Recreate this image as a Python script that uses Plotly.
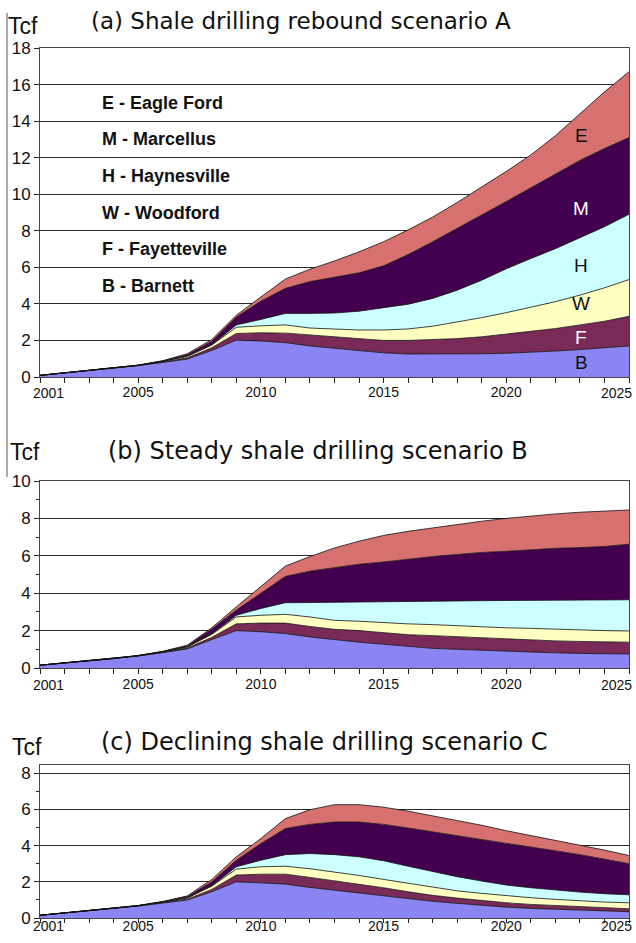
import plotly.graph_objects as go

# ---------------- data ----------------
years = list(range(2001, 2026))
year_labels = ["", "", "", "", "2005", "", "", "", "", "2010", "", "", "", "", "2015",
               "", "", "", "", "2020", "", "", "", "", ""]
first_year_label = "2001"
last_year_label = "2025"

shale_names = ["Barnett", "Fayetteville", "Woodford", "Haynesville", "Marcellus", "Eagle Ford"]
shale_letters = ["B", "F", "W", "H", "M", "E"]
legend_lines = ["E - Eagle Ford", "M - Marcellus", "H - Haynesville", "W - Woodford",
                "F - Fayetteville", "B - Barnett"]

# cumulative (stacked) tops, Tcf
# Scenario A - shale drilling rebound
a_barnett = [0.09, 0.22, 0.36, 0.49, 0.62, 0.80, 0.98, 1.45, 2.02, 1.97, 1.88, 1.70, 1.58, 1.45, 1.32, 1.26, 1.25, 1.25, 1.27, 1.30, 1.35, 1.42, 1.50, 1.60, 1.70]
a_fayetteville = [0.09, 0.22, 0.36, 0.49, 0.63, 0.82, 1.05, 1.60, 2.38, 2.42, 2.40, 2.30, 2.20, 2.08, 2.00, 2.00, 2.05, 2.10, 2.20, 2.35, 2.50, 2.65, 2.85, 3.05, 3.32]
a_woodford = [0.09, 0.22, 0.36, 0.49, 0.64, 0.85, 1.12, 1.75, 2.72, 2.80, 2.85, 2.68, 2.62, 2.57, 2.57, 2.63, 2.78, 3.00, 3.25, 3.52, 3.82, 4.12, 4.48, 4.88, 5.33]
a_haynesville = [0.09, 0.22, 0.36, 0.49, 0.64, 0.86, 1.15, 1.76, 2.85, 3.15, 3.48, 3.48, 3.50, 3.60, 3.78, 3.98, 4.30, 4.75, 5.30, 5.92, 6.48, 7.02, 7.62, 8.22, 8.90]
a_marcellus = [0.09, 0.22, 0.36, 0.49, 0.65, 0.88, 1.22, 1.95, 3.28, 4.15, 4.85, 5.22, 5.45, 5.70, 6.08, 6.70, 7.40, 8.12, 8.85, 9.60, 10.35, 11.10, 11.85, 12.50, 13.10]
a_eagleford = [0.09, 0.22, 0.36, 0.49, 0.65, 0.89, 1.27, 2.05, 3.38, 4.38, 5.36, 5.90, 6.35, 6.85, 7.40, 8.05, 8.75, 9.55, 10.40, 11.25, 12.15, 13.20, 14.40, 15.60, 16.70]

# Scenario B - steady shale drilling
b_barnett = [0.15, 0.27, 0.40, 0.50, 0.64, 0.82, 1.02, 1.52, 2.00, 1.94, 1.84, 1.66, 1.50, 1.38, 1.27, 1.15, 1.05, 1.00, 0.95, 0.88, 0.83, 0.81, 0.78, 0.76, 0.75]
b_fayetteville = [0.15, 0.27, 0.40, 0.50, 0.65, 0.84, 1.07, 1.64, 2.36, 2.40, 2.40, 2.22, 2.07, 2.00, 1.87, 1.78, 1.73, 1.67, 1.60, 1.53, 1.49, 1.45, 1.42, 1.40, 1.38]
b_woodford = [0.15, 0.27, 0.40, 0.50, 0.66, 0.86, 1.12, 1.80, 2.73, 2.82, 2.87, 2.73, 2.55, 2.50, 2.42, 2.36, 2.32, 2.25, 2.18, 2.15, 2.12, 2.07, 2.04, 2.00, 1.98]
b_haynesville = [0.15, 0.27, 0.40, 0.50, 0.66, 0.87, 1.14, 1.82, 2.82, 3.18, 3.49, 3.50, 3.52, 3.53, 3.55, 3.56, 3.58, 3.60, 3.60, 3.61, 3.62, 3.62, 3.63, 3.64, 3.65]
b_marcellus = [0.15, 0.27, 0.40, 0.50, 0.67, 0.88, 1.18, 2.08, 3.10, 4.00, 4.90, 5.18, 5.36, 5.55, 5.67, 5.82, 5.96, 6.07, 6.18, 6.24, 6.33, 6.40, 6.44, 6.50, 6.62]
b_eagleford = [0.15, 0.27, 0.40, 0.50, 0.67, 0.89, 1.22, 2.15, 3.27, 4.36, 5.45, 5.96, 6.42, 6.78, 7.09, 7.31, 7.50, 7.69, 7.85, 8.00, 8.13, 8.24, 8.33, 8.40, 8.45]

# Scenario C - declining shale drilling
c_barnett = [0.15, 0.29, 0.40, 0.53, 0.66, 0.84, 0.99, 1.45, 2.00, 1.94, 1.87, 1.69, 1.54, 1.39, 1.23, 1.06, 0.92, 0.81, 0.70, 0.60, 0.53, 0.48, 0.44, 0.40, 0.35]
c_fayetteville = [0.15, 0.29, 0.40, 0.53, 0.67, 0.86, 1.04, 1.58, 2.37, 2.42, 2.42, 2.24, 2.06, 1.87, 1.67, 1.45, 1.25, 1.10, 0.95, 0.84, 0.75, 0.68, 0.62, 0.57, 0.51]
c_woodford = [0.15, 0.29, 0.40, 0.53, 0.68, 0.88, 1.10, 1.76, 2.70, 2.83, 2.86, 2.72, 2.55, 2.35, 2.13, 1.91, 1.69, 1.50, 1.36, 1.23, 1.12, 1.03, 0.95, 0.88, 0.84]
c_haynesville = [0.15, 0.29, 0.40, 0.53, 0.68, 0.89, 1.12, 1.78, 2.83, 3.19, 3.50, 3.56, 3.50, 3.38, 3.16, 2.86, 2.55, 2.28, 2.04, 1.82, 1.67, 1.54, 1.43, 1.34, 1.28]
c_marcellus = [0.15, 0.29, 0.40, 0.53, 0.69, 0.90, 1.18, 2.00, 3.19, 4.11, 4.94, 5.17, 5.30, 5.30, 5.17, 4.97, 4.75, 4.55, 4.35, 4.12, 3.92, 3.72, 3.50, 3.25, 3.00]
c_eagleford = [0.15, 0.29, 0.40, 0.53, 0.69, 0.91, 1.22, 2.13, 3.38, 4.39, 5.49, 5.98, 6.26, 6.26, 6.12, 5.90, 5.65, 5.40, 5.12, 4.82, 4.55, 4.30, 4.05, 3.75, 3.45]

panel_titles = ["(a) Shale drilling rebound scenario A",
                "(b) Steady shale drilling scenario B",
                "(c) Declining shale drilling scenario C"]

# ---------------- style ----------------
W, H = 636, 943
colors = ["#8B84F3", "#7A2A56", "#FFFFC2", "#CCFFFF", "#42004F", "#D6716F"]
arial = "Liberation Sans, Arial, sans-serif"
narrow = "Liberation Sans Narrow, Liberation Sans, Arial, sans-serif"
title_font = "DejaVu Sans, Liberation Sans, sans-serif"

def px(x):
    return x / W

def py(y):
    return 1 - y / H

scenarios = [
    ("x", "y", [a_barnett, a_fayetteville, a_woodford, a_haynesville, a_marcellus, a_eagleford]),
    ("x2", "y2", [b_barnett, b_fayetteville, b_woodford, b_haynesville, b_marcellus, b_eagleford]),
    ("x3", "y3", [c_barnett, c_fayetteville, c_woodford, c_haynesville, c_marcellus, c_eagleford]),
]

fig = go.Figure()
for xa, ya, series in scenarios:
    for i, vals in enumerate(series):
        fig.add_trace(go.Scatter(
            x=years, y=vals, xaxis=xa, yaxis=ya, mode="lines",
            name=shale_names[i],
            fill="tozeroy" if i == 0 else "tonexty",
            fillcolor=colors[i],
            line=dict(color="#111111", width=0.8),
            showlegend=False, hoverinfo="skip"))

xdom = [px(40), px(629)]
ydoms = [[py(377), py(48)], [py(668), py(481)], [py(918), py(765)]]
yranges = [[0, 18], [0, 10], [0, 8.45]]
standoffs = [-3, -2, -9]
ticklens = [5, 5, 4]

layout = dict(
    width=W, height=H, template="none",
    paper_bgcolor="white", plot_bgcolor="white",
    margin=dict(l=0, r=0, t=0, b=0),
    showlegend=False,
)
for k in range(3):
    sfx = "" if k == 0 else str(k + 1)
    layout["xaxis" + sfx] = dict(
        domain=xdom, range=[2001, 2025], anchor="y" + sfx,
        tickmode="array", tickvals=years, ticktext=year_labels,
        ticks="outside", ticklen=ticklens[k], tickcolor="#222", tickwidth=1,
        ticklabelstandoff=standoffs[k],
        showline=True, linecolor="#444", linewidth=1, mirror=True,
        showgrid=False, zeroline=False, automargin=False,
        tickfont=dict(family=arial, size=14, color="#111"))
    ydict = dict(
        domain=ydoms[k], range=yranges[k], anchor="x" + sfx,
        tickmode="linear", tick0=0, dtick=2,
        ticks="outside", ticklen=5, tickcolor="#222", tickwidth=1,
        showline=True, linecolor="#444", linewidth=1, mirror=True,
        showgrid=True, gridcolor="#2a2a2a", gridwidth=1,
        zeroline=False, automargin=False,
        tickfont=dict(family=narrow, size=17, color="#111"))
    if k > 0:
        ydict["minor"] = dict(dtick=1, ticks="outside", ticklen=3, tickcolor="#222", showgrid=False)
    layout["yaxis" + sfx] = ydict

annotations = []
# "Tcf" labels and panel titles
tcf_pos = [(6, 26), (8, 452), (10, 747)]
title_pos = [(89, 21, 23), (106, 451, 24), (99, 742, 24)]
edge_label_y = [393, 685, 926]
for k in range(3):
    sfx = "" if k == 0 else str(k + 1)
    annotations.append(dict(text="Tcf", xref="paper", yref="paper",
                            x=px(tcf_pos[k][0]), y=py(tcf_pos[k][1]),
                            xanchor="left", yanchor="middle", showarrow=False,
                            font=dict(family=arial, size=23, color="#111")))
    annotations.append(dict(text=panel_titles[k], xref="paper", yref="paper",
                            x=px(title_pos[k][0]), y=py(title_pos[k][1]),
                            xanchor="left", yanchor="middle", showarrow=False,
                            font=dict(family=title_font, size=title_pos[k][2], color="#111")))
    # first and last year labels, nudged inward as in the original
    annotations.append(dict(text=first_year_label, xref="x" + sfx, yref="paper",
                            x=years[0], y=py(edge_label_y[k]), xanchor="center",
                            yanchor="middle", xshift=8, showarrow=False,
                            font=dict(family=arial, size=14, color="#111")))
    annotations.append(dict(text=last_year_label, xref="x" + sfx, yref="paper",
                            x=years[-1], y=py(edge_label_y[k]), xanchor="right",
                            yanchor="middle", xshift=5, showarrow=False,
                            font=dict(family=arial, size=14, color="#111")))

# legend text block in panel (a)
legend_y = [15, 13, 11, 9, 7, 5]
for txt, yv in zip(legend_lines, legend_y):
    annotations.append(dict(text="<b>" + txt + "</b>", xref="x", yref="y",
                            x=2003.45, y=yv, xanchor="left", yanchor="middle",
                            showarrow=False,
                            font=dict(family=arial, size=18, color="#111")))

# layer letters in panel (a)
letter_y = [0.77, 2.15, 4.0, 6.1, 9.2, 13.2]
letter_col = ["#111", "white", "#111", "#111", "white", "#111"]
for let, yv, col in zip(shale_letters, letter_y, letter_col):
    annotations.append(dict(text=let, xref="x", yref="y", x=2023.05, y=yv,
                            xanchor="center", yanchor="middle", showarrow=False,
                            font=dict(family=arial, size=19, color=col)))

layout["annotations"] = annotations
layout["shapes"] = [dict(type="line", xref="paper", yref="paper",
                         x0=px(7), x1=px(7), y0=py(13), y1=py(477),
                         line=dict(color="#555", width=1))]

fig.update_layout(**layout)
fig.write_html("out.html", config={"displayModeBar": False},
               post_script="document.body.style.margin='0px';document.body.style.padding='0px';")
